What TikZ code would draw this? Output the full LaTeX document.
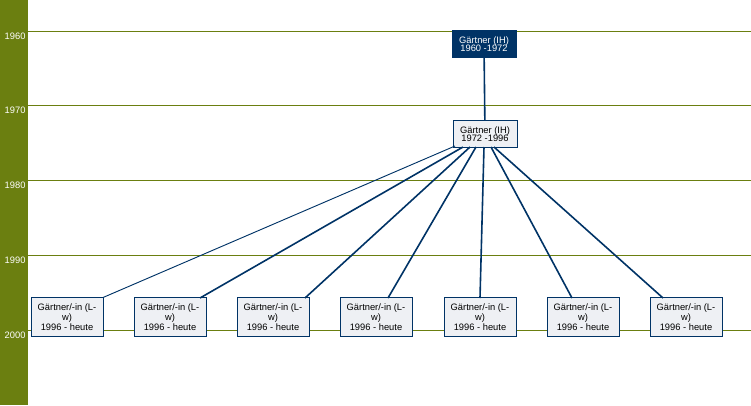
\documentclass[tikz,border=0pt]{standalone}
\usepackage{fontspec}
\setmainfont{Liberation Sans}
\definecolor{bargreen}{HTML}{6B7F10}
\definecolor{boxblue}{HTML}{003366}
\definecolor{boxfill}{HTML}{EEF0F4}
\begin{document}
\begin{tikzpicture}[x=0.75pt,y=-0.75pt,
    yearline/.style={bargreen,line width=0.6pt},
    yearlabel/.style={white,font=\fontsize{7}{7}\selectfont,anchor=west},
    job/.style={draw=boxblue,fill=boxfill,align=center,inner sep=1.5pt,
        font=\fontsize{7}{6.5}\selectfont,minimum width=48pt},
    link/.style={boxblue,line width=1.2pt}]
                \useasboundingbox (0,0) rectangle (751,405);
                %bar
                \fill[bargreen] (0,0) rectangle (28,405);
                %years
                \foreach \y/\yr in {31/1960,105/1970,180/1980,255/1990,330/2000}{
                    \draw[yearline] (28,\y) -- (751,\y);
                    \node[yearlabel] at (0,\y+5) {\yr};
                }
                \node[job,fill=boxblue,text=white,minimum height=20pt] (top) at (484,44)
                    {Gärtner (IH)\\1960 -1972};
                \node[job,minimum height=20pt] (mid) at (485,134)
                    {Gärtner (IH)\\1972 -1996};
                \draw[link] (top) -- (mid);
                %children
                \foreach \i/\x in {1/67,2/170,3/273,4/376,5/480,6/583,7/686}
                    \node[job,minimum width=54pt,minimum height=29pt] (c\i) at (\x,317)
                        {Gärtner/-in (L-\\w)\\1996 - heute};
                \draw[boxblue,line width=0.7pt] (455,146) -- (c1.north east);
                \foreach \i/\s/\e in {2/463/200,3/470/305,4/476/388,5/484/480,6/491/572,7/494/663}
                    \draw[link] (\s,147) -- (\e,298);
\end{tikzpicture}
\end{document}
